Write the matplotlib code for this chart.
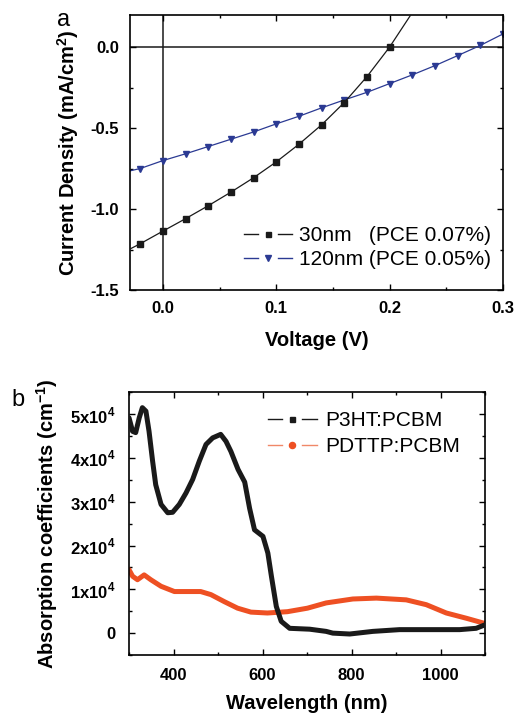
import numpy as np
import matplotlib
matplotlib.use("Agg")
import matplotlib.pyplot as plt
from matplotlib.lines import Line2D
from matplotlib.legend_handler import HandlerBase
from matplotlib.ticker import MultipleLocator

plt.rcParams['font.family'] = ['Liberation Sans', 'DejaVu Sans']
plt.rcParams['mathtext.fontset'] = 'custom'
plt.rcParams['mathtext.rm'] = 'Liberation Sans'
plt.rcParams['mathtext.bf'] = 'Liberation Sans:bold'
plt.rcParams['axes.unicode_minus'] = False

# --- panel a: J-V curves ---
v_30 = [-0.03, -0.02, 0.00, 0.02, 0.04, 0.06, 0.08, 0.10, 0.12, 0.14, 0.16, 0.18, 0.20, 0.22]
j_30 = [-1.25, -1.214, -1.136, -1.059, -0.979, -0.895, -0.806, -0.708, -0.599, -0.479,
        -0.341, -0.181, 0.002, 0.215]
v_120 = [-0.03, -0.02, 0.00, 0.02, 0.04, 0.06, 0.08, 0.10, 0.12, 0.14, 0.16, 0.18, 0.20,
         0.22, 0.24, 0.26, 0.28, 0.30]
j_120 = [-0.765, -0.749, -0.700, -0.658, -0.613, -0.568, -0.523, -0.473, -0.426, -0.374,
         -0.325, -0.278, -0.224, -0.170, -0.113, -0.051, 0.012, 0.083]
label_30 = "30nm   (PCE 0.07%)"
label_120 = "120nm (PCE 0.05%)"

# --- panel b: absorption spectra ---
wl_p3ht = [300, 308, 315, 323, 330, 338, 345, 353, 360, 372, 387, 398, 413, 428, 443, 458,
           473, 488, 506, 518, 529, 545, 560, 571, 582, 601, 612, 620, 631, 642, 661, 706,
           743, 758, 796, 848, 908, 983, 1043, 1080, 1100]
ab_p3ht = [49200, 46100, 45800, 49200, 51500, 50700, 46100, 39300, 33900, 29400, 27500,
           27600, 29400, 32000, 35100, 39300, 43100, 44600, 45400, 43800, 41500, 37400,
           34500, 28500, 23600, 22100, 18300, 13000, 6100, 2700, 1100, 900, 400, 0, -200,
           400, 800, 800, 800, 1100, 1900]
wl_pdttp = [300, 308, 319, 334, 349, 372, 402, 432, 461, 484, 514, 544, 574, 611, 656, 701,
            743, 803, 856, 923, 968, 1013, 1058, 1100]
ab_pdttp = [14500, 13000, 12200, 13300, 12200, 10700, 9500, 9500, 9500, 8800, 7200, 5700,
            4800, 4600, 4900, 5700, 6900, 7800, 8000, 7600, 6500, 4600, 3400, 2200]

black = '#1a1a1a'
blue = '#2b3a93'
orange = '#ee5023'
salmon = '#f08868'


class GapHandler(HandlerBase):
    # line - marker - line, with a gap around the marker
    def __init__(self, lcolor, mcolor, marker, ms):
        super().__init__()
        self.lcolor, self.mcolor, self.marker, self.ms = lcolor, mcolor, marker, ms

    def create_artists(self, legend, orig_handle, xdescent, ydescent, width, height,
                       fontsize, trans):
        y = height / 2 - ydescent
        x0 = -xdescent
        x1 = x0 + width
        xm = (x0 + x1) / 2
        g = width * 0.2
        a1 = Line2D([x0, xm - g], [y, y], color=self.lcolor, lw=1.0, transform=trans)
        a2 = Line2D([xm + g, x1], [y, y], color=self.lcolor, lw=1.0, transform=trans)
        a3 = Line2D([xm], [y], ls='none', marker=self.marker, ms=self.ms,
                    color=self.mcolor, transform=trans)
        return [a1, a2, a3]


fig = plt.figure(figsize=(5.14, 7.14), dpi=100)

tick_kw = dict(direction='in', top=True, right=True)

# ================= panel a =================
ax1 = fig.add_axes([0.2529, 0.5938, 0.7257, 0.3852])
ax1.axhline(0, color=black, lw=1.1, zorder=1)
ax1.axvline(0, color=black, lw=1.1, zorder=1)
ax1.plot(v_30, j_30, color=black, lw=0.9, marker='s', ms=3.8,
         markevery=list(range(1, len(v_30) - 1)), zorder=3)
ax1.plot(v_120, j_120, color=blue, lw=0.9, marker='v', ms=4.8,
         markevery=list(range(1, len(v_120))), zorder=2)
ax1.set_xlim(-0.029, 0.3)
ax1.set_ylim(-1.5, 0.2)
ax1.xaxis.set_major_locator(MultipleLocator(0.1))
ax1.xaxis.set_minor_locator(MultipleLocator(0.05))
ax1.yaxis.set_major_locator(MultipleLocator(0.5))
ax1.yaxis.set_minor_locator(MultipleLocator(0.25))
ax1.tick_params(which='major', length=4, width=1, labelsize=12, pad=8, **tick_kw)
ax1.tick_params(which='minor', length=2.5, width=1, **tick_kw)
for lab in ax1.get_xticklabels() + ax1.get_yticklabels():
    lab.set_fontweight('bold')
ax1.set_xlabel("Voltage (V)", fontsize=14.5, fontweight='bold', labelpad=11)
ax1.set_ylabel(r"Current Density (mA/cm$^\mathbf{2}$)", fontsize=14.5, fontweight='bold',
               labelpad=7)
for s in ax1.spines.values():
    s.set_linewidth(1.2)
fig.text(0.123, 0.972, "a", fontsize=17, va='center', ha='center')

h30 = Line2D([], [])
h120 = Line2D([], [])
ax1.legend([h30, h120], [label_30, label_120], loc='center left',
           bbox_to_anchor=(0.278, 0.155), frameon=False, borderpad=0,
           fontsize=15, handlelength=2.3, handletextpad=0.33, labelspacing=0.25,
           handler_map={h30: GapHandler(black, black, 's', 3.6),
                        h120: GapHandler(blue, blue, 'v', 4.4)})

# ================= panel b =================
ax2 = fig.add_axes([0.251, 0.0826, 0.6926, 0.3679])
ax2.plot(wl_p3ht, ab_p3ht, color=black, lw=3.6, solid_capstyle='round',
         solid_joinstyle='round', zorder=3)
ax2.plot(wl_pdttp, ab_pdttp, color=orange, lw=3.6, solid_capstyle='round',
         solid_joinstyle='round', zorder=2)
ax2.set_xlim(300, 1100)
ax2.set_ylim(-5000, 55000)
ax2.xaxis.set_major_locator(MultipleLocator(200))
ax2.xaxis.set_minor_locator(MultipleLocator(100))
ax2.yaxis.set_minor_locator(MultipleLocator(5000))
yt = [0, 10000, 20000, 30000, 40000, 50000]
ax2.set_yticks(yt)
ax2.set_yticklabels(["0"] + [r"%dx10$^\mathbf{4}$" % (v // 10000) for v in yt[1:]])
ax2.tick_params(which='major', length=4, width=1, labelsize=12, **tick_kw)
ax2.tick_params(axis='x', which='major', pad=9)
ax2.tick_params(axis='y', which='major', pad=10)
ax2.tick_params(which='minor', length=2.5, width=1, **tick_kw)
for lab in ax2.get_xticklabels() + ax2.get_yticklabels():
    lab.set_fontweight('bold')
ax2.set_xlabel("Wavelength (nm)", fontsize=14.5, fontweight='bold', labelpad=8)
ax2.set_ylabel(r"Absorption coefficients (cm$^\mathbf{-1}$)", fontsize=14.5,
               fontweight='bold', labelpad=7)
for s in ax2.spines.values():
    s.set_linewidth(1.2)
fig.text(0.035, 0.44, "b", fontsize=17, va='center', ha='center')

hp3 = Line2D([], [])
hpd = Line2D([], [])
ax2.legend([hp3, hpd], ["P3HT:PCBM", "PDTTP:PCBM"], loc='center left',
           bbox_to_anchor=(0.36, 0.842), frameon=False, borderpad=0,
           fontsize=15, handlelength=2.35, handletextpad=0.43, labelspacing=0.35,
           handler_map={hp3: GapHandler(black, black, 's', 3.6),
                        hpd: GapHandler(salmon, orange, 'o', 4.4)})

fig.savefig("out.png", dpi=100)
